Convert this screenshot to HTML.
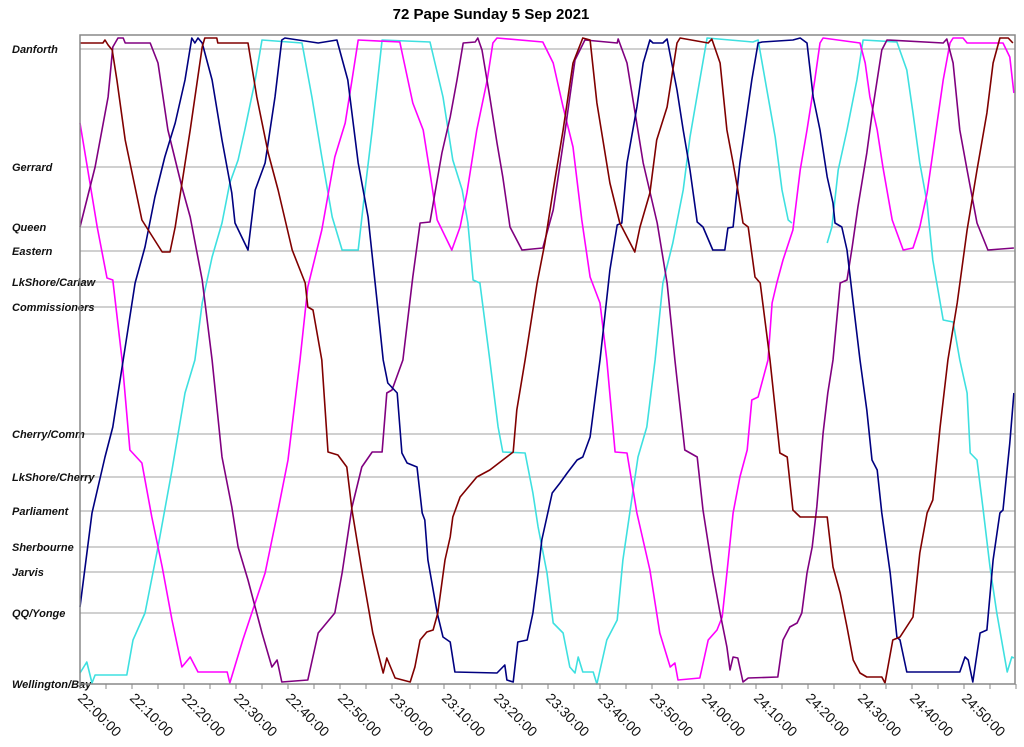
<!DOCTYPE html>
<html><head><meta charset="utf-8"><style>
html,body{margin:0;padding:0;background:#fff;}
svg{display:block;font-family:"Liberation Sans",Arial,sans-serif;}
</style></head><body>
<svg id="chart" width="1024" height="747" viewBox="0 0 1024 747" xmlns="http://www.w3.org/2000/svg">
<text x="491" y="19" text-anchor="middle" font-size="15" font-weight="bold" fill="#000">72 Pape Sunday 5 Sep 2021</text>
<g id="grid"></g>
<g id="ylabels"></g>
<g id="xaxis"></g>
<g id="series"></g>
<rect x="80" y="35" width="935" height="649" fill="none" stroke="#888" stroke-width="1.5"/>
</svg>
<script>
// stations (km from Wellington/Bay)
const stationNames = ["Danforth","Gerrard","Queen","Eastern","LkShore/Carlaw","Commissioners","Cherry/Comm","LkShore/Cherry","Parliament","Sherbourne","Jarvis","QQ/Yonge","Wellington/Bay"];
const stationDist = [6.35,5.17,4.57,4.33,4.02,3.77,2.50,2.07,1.73,1.37,1.12,0.71,0];
const tickLabels = ["22:00:00","22:10:00","22:20:00","22:30:00","22:40:00","22:50:00","23:00:00","23:10:00","23:20:00","23:30:00","23:40:00","23:50:00","24:00:00","24:10:00","24:20:00","24:30:00","24:40:00","24:50:00"];
const tickMinutes = [0,10,20,30,40,50,60,70,80,90,100,110,120,130,140,150,160,170];

// series: minutes after 22:00, distance km
const maroonT = [0,4.4,4.8,5.4,6.2,7.1,8.7,11.9,15.8,17.3,18.3,21.2,23.5,24.0,26.3,26.5,32.3,34.0,36.2,38.1,40.8,43.3,43.8,44.8,46.5,47.7,49.6,51.3,52.3,54.2,56.3,58.3,59.0,60.6,63.5,64.4,65.4,66.7,67.9,68.8,70.2,71.2,71.7,73.1,76.3,78.8,81.3,83.3,84.0,85.6,87.9,89.4,91.0,92.9,94.8,96.7,98.1,99.4,101.9,103.8,106.7,107.7,109.6,110.9,112.9,114.8,115.4,120.8,121.5,123.1,124.4,125.6,126.5,127.5,128.5,129.8,130.8,132.7,134.6,136.0,137.1,138.5,143.7,144.8,146.2,147.5,148.7,150.0,151.3,154.2,154.8,156.3,157.7,160.2,161.5,162.9,164.0,165.4,166.9,168.7,170.6,172.5,174.4,175.6,176.9,178.5,179.4];
const maroonD = [6.41,6.41,6.44,6.39,6.34,6.04,5.44,4.64,4.32,4.32,4.57,5.54,6.37,6.46,6.46,6.41,6.41,5.87,5.31,4.94,4.34,4.01,3.77,3.74,3.24,2.32,2.29,2.17,1.74,1.14,0.51,0.11,0.26,0.06,0.02,0.17,0.44,0.52,0.54,0.71,1.24,1.47,1.67,1.87,2.07,2.14,2.24,2.32,2.74,3.24,4.01,4.41,4.94,5.54,6.21,6.46,6.44,5.81,5.01,4.61,4.32,4.57,4.91,5.44,5.77,6.41,6.46,6.41,6.45,6.21,5.54,5.21,4.94,4.61,4.57,4.07,4.01,3.24,2.31,2.27,1.74,1.67,1.67,1.17,0.91,0.57,0.24,0.11,0.07,0.07,0.01,0.44,0.47,0.67,1.31,1.71,1.84,2.57,3.24,3.81,4.54,5.14,5.71,6.21,6.46,6.46,6.41];

const purpleT = [0,2.9,5.4,6.3,7.3,8.3,8.7,13.5,15.0,16.9,19.6,21.2,23.5,25.4,27.3,29.2,30.4,32.3,35.0,36.9,37.9,38.8,43.8,45.8,49.0,50.4,52.3,54.2,56.2,58.1,59.0,60.0,62.1,64.0,65.4,67.3,68.7,69.6,71.2,72.5,73.7,76.0,76.5,77.3,78.8,80.2,81.3,82.7,85.0,89.0,91.0,93.3,95.2,97.1,103.3,103.5,105.2,108.3,111.0,112.9,114.4,116.3,118.7,119.8,121.7,123.1,124.4,125.0,125.6,126.5,127.5,128.5,134.2,135.2,136.5,137.9,138.8,139.8,140.8,141.7,142.9,143.8,144.8,146.2,147.5,148.5,149.6,151.3,152.5,154.2,155.2,166.0,166.7,167.9,169.2,170.6,172.5,174.6,179.6];
const purpleD = [4.57,5.17,5.87,6.37,6.46,6.46,6.41,6.41,6.21,5.54,4.97,4.67,4.04,3.24,2.27,1.77,1.37,1.04,0.51,0.17,0.24,0.02,0.04,0.51,0.71,1.11,1.77,2.17,2.32,2.32,2.91,2.94,3.24,4.07,4.61,4.62,5.04,5.31,5.67,6.04,6.41,6.42,6.46,6.34,5.87,5.41,5.07,4.57,4.34,4.36,4.74,5.54,6.24,6.44,6.41,6.45,6.21,5.21,4.61,4.01,3.24,2.34,2.27,1.74,1.11,0.71,0.37,0.14,0.27,0.26,0.02,0.06,0.07,0.44,0.57,0.61,0.71,1.11,1.37,1.77,2.51,2.91,3.24,4.01,4.04,4.37,4.77,5.31,5.77,6.34,6.44,6.41,6.45,6.21,5.54,5.14,4.61,4.34,4.36];

const magentaT = [0,1.5,3.3,5.2,6.3,8.1,9.6,11.9,13.8,15.8,17.7,19.6,21.2,22.7,28.3,28.8,31.3,35.6,38.1,40.0,42.3,43.8,46.5,49.0,51.0,52.3,53.5,61.5,64.0,66.0,67.3,68.7,71.5,73.1,74.4,76.3,78.3,79.4,80.2,89.0,91.0,92.9,94.8,96.5,98.1,100.0,101.3,102.9,105.2,107.1,109.6,111.5,113.5,114.4,115.0,119.2,120.8,122.5,123.5,124.4,125.6,126.9,128.3,129.2,130.4,132.3,133.1,134.0,135.2,137.1,138.5,139.8,141.3,142.3,142.9,150.0,151.0,151.9,153.3,154.4,156.2,158.3,160.2,161.5,162.9,164.0,166.0,167.3,167.9,169.8,170.6,177.5,178.8,179.6];
const magentaD = [5.61,5.14,4.57,4.06,4.04,3.24,2.34,2.21,1.67,1.17,0.64,0.17,0.27,0.12,0.12,0.01,0.44,1.11,1.74,2.24,3.24,3.97,4.54,5.27,5.61,6.04,6.44,6.42,5.81,5.54,5.11,4.64,4.34,4.57,4.91,5.54,6.04,6.41,6.46,6.42,6.21,5.77,5.37,4.64,4.07,3.81,3.24,2.32,2.31,1.71,1.14,0.51,0.17,0.21,0.04,0.06,0.44,0.54,0.67,1.11,1.71,2.07,2.34,2.84,2.87,3.24,3.81,4.01,4.24,4.54,5.14,5.54,6.04,6.41,6.46,6.41,6.21,5.87,5.54,5.17,4.64,4.34,4.36,4.57,4.91,5.31,6.04,6.41,6.46,6.46,6.41,6.41,6.27,5.91];

const navyT = [0,2.3,4.8,6.3,8.3,10.6,12.5,14.4,16.3,18.3,20.2,21.5,22.1,22.7,23.5,25.4,27.3,29.2,29.8,32.3,33.7,35.6,37.5,38.8,39.4,45.8,49.4,51.5,53.5,55.4,56.7,57.3,58.3,59.2,61.0,61.9,62.9,64.8,65.8,66.3,66.9,68.7,69.8,71.2,72.1,80.2,81.7,82.1,83.3,84.2,86.0,87.1,88.1,88.8,90.8,92.3,93.7,95.6,96.7,98.1,100.0,101.9,103.3,104.2,105.2,107.1,108.3,109.6,110.2,112.1,112.9,114.8,116.0,117.3,118.7,119.8,121.7,124.0,124.6,125.6,126.9,127.9,129.2,130.4,131.2,137.1,138.5,139.8,141.0,142.3,143.7,144.8,145.2,146.5,147.5,148.7,150.0,151.3,152.3,153.3,154.2,155.8,157.1,157.7,159.0,169.2,170.2,170.8,171.7,173.1,174.4,175.6,176.9,177.5,178.8,179.6];
const navyD = [0.77,1.71,2.27,2.57,3.24,4.01,4.37,4.87,5.27,5.61,6.04,6.46,6.41,6.46,6.41,6.04,5.44,4.91,4.61,4.34,4.94,5.21,5.87,6.44,6.46,6.41,6.44,6.04,5.21,4.67,4.04,3.74,3.24,3.01,2.91,2.31,2.21,2.17,1.71,1.64,1.24,0.71,0.47,0.42,0.12,0.11,0.19,0.04,0.02,0.42,0.44,0.71,1.11,1.44,1.91,2.01,2.11,2.24,2.27,2.47,3.24,4.14,4.59,4.61,5.21,5.77,6.21,6.44,6.41,6.41,6.45,5.94,5.54,5.14,4.62,4.57,4.34,4.34,4.56,4.57,5.21,5.57,6.04,6.41,6.42,6.44,6.46,6.41,5.87,5.54,5.07,4.81,4.61,4.57,4.34,3.81,3.24,2.74,2.24,2.14,1.71,1.11,0.47,0.44,0.12,0.12,0.27,0.24,0.02,0.51,0.54,1.24,1.71,1.74,2.41,2.91];

const cyanAT = [0,1.3,2.3,2.9,9.0,10.2,12.5,15.0,17.7,20.2,22.1,23.5,25.4,27.3,28.8,30.4,31.7,33.7,35.0,42.7,44.6,46.5,48.5,50.4,53.5,54.8,56.2,58.1,67.3,69.8,71.7,73.5,74.6,75.6,76.9,78.8,80.4,81.3,85.6,87.1,88.1,89.8,91.0,92.9,94.2,95.2,95.8,96.7,98.7,99.4,101.3,103.3,104.4,105.8,107.3,109.0,110.6,112.1,114.0,116.0,117.3,119.2,120.6,129.4,130.4,132.1,133.7,135.0,136.2,136.9];
const cyanAD = [0.11,0.22,0.01,0.09,0.09,0.44,0.71,1.37,2.14,2.91,3.24,3.81,4.27,4.61,5.01,5.24,5.54,6.04,6.44,6.41,5.87,5.27,4.67,4.34,4.34,4.94,5.54,6.44,6.42,5.87,5.24,4.94,4.61,4.04,4.01,3.24,2.57,2.32,2.31,1.91,1.57,1.11,0.61,0.51,0.17,0.11,0.27,0.12,0.12,0.0,0.44,0.64,1.24,1.74,2.27,2.57,3.24,4.01,4.41,4.94,5.47,6.04,6.46,6.42,6.44,5.94,5.47,4.94,4.64,4.61];
const cyanBT = [143.7,144.6,145.8,147.5,149.4,150.6,157.1,159.0,160.2,161.5,162.9,164.0,166.0,167.9,169.2,170.6,171.2,172.5,173.7,175.0,176.3,178.3,179.2,179.6];
const cyanBD = [4.41,4.57,5.14,5.54,6.04,6.44,6.42,6.14,5.71,5.21,4.81,4.24,3.64,3.62,3.24,2.91,2.31,2.24,1.74,1.17,0.71,0.12,0.27,0.26];

const NS = "http://www.w3.org/2000/svg";
const X0 = 80, PXPERMIN = 5.2, Y0 = 684, PXPERKM = 100;
function xs(t){ return X0 + t * PXPERMIN; }
function ys(d){ return Y0 - d * PXPERKM; }
function mk(tag, attrs, parent){
  const e = document.createElementNS(NS, tag);
  for (const k in attrs) e.setAttribute(k, attrs[k]);
  parent.appendChild(e);
  return e;
}
const grid = document.getElementById('grid');
const yl = document.getElementById('ylabels');
stationNames.forEach((n, i) => {
  const y = ys(stationDist[i]);
  if (stationDist[i] > 0) {
    const l = mk('line', {x1: 80, x2: 1015, y1: y, y2: y, stroke: '#a0a0a0', 'stroke-width': 1}, grid);
    
    
  }
  const t = mk('text', {x: 12, y: y + 4, 'font-size': 11, 'font-weight': 'bold', 'font-style': 'italic', fill: '#111'}, yl);
  t.textContent = n;
  
  
});
const xa = document.getElementById('xaxis');
for (let m = 0; m <= 180; m += 5) {
  const tk = mk('line', {x1: xs(m), x2: xs(m), y1: 684, y2: 689, stroke: '#888', 'stroke-width': 1}, xa);
  
  
}
tickLabels.forEach((lab, i) => {
  const x = xs(tickMinutes[i]) - 3, y = 699;
  const t = mk('text', {x: x, y: y, 'font-size': 14, fill: '#111', transform: 'rotate(45 ' + x + ' ' + y + ')'}, xa);
  t.textContent = lab;
  
  
});
const sg = document.getElementById('series');
function drawSeries(T, D, color, name){
  let d = '';
  for (let i = 0; i < T.length; i++) d += (i ? 'L' : 'M') + xs(T[i]).toFixed(1) + ' ' + ys(D[i]).toFixed(1);
  const p = mk('path', {d: d, fill: 'none', stroke: color, 'stroke-width': 1.6, 'stroke-linejoin': 'round'}, sg);
  
  
}
drawSeries(cyanAT, cyanAD, '#3ee0e0', 'cyan-vehicle-trace');
drawSeries(cyanBT, cyanBD, '#3ee0e0', 'cyan-vehicle-trace-2');
drawSeries(magentaT, magentaD, '#ff00ff', 'magenta-vehicle-trace');
drawSeries(purpleT, purpleD, '#800080', 'purple-vehicle-trace');
drawSeries(navyT, navyD, '#000080', 'navy-vehicle-trace');
drawSeries(maroonT, maroonD, '#800000', 'maroon-vehicle-trace');
</script>
</body></html>
